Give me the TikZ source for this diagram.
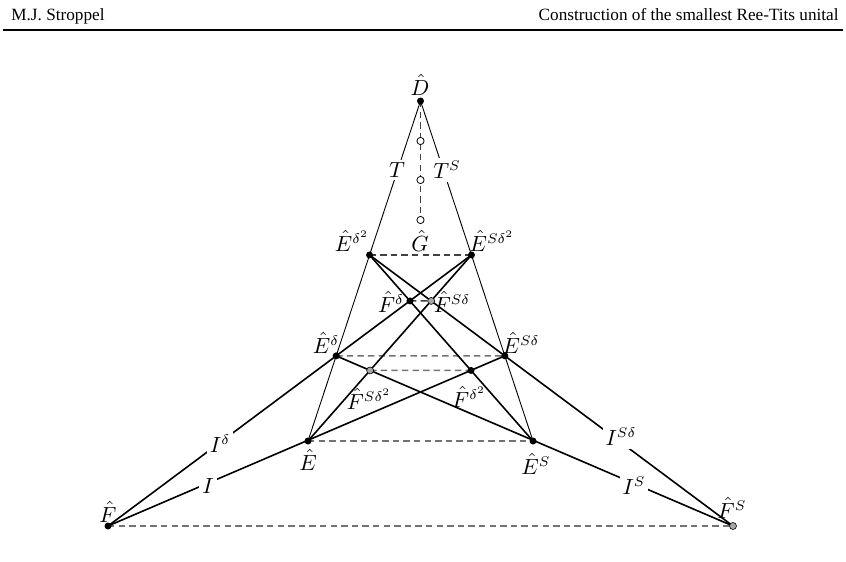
\documentclass[tikz,border=0pt]{standalone}
\usepackage{fontspec}
\usetikzlibrary{calc}
\newfontfamily\hdfont{Liberation Serif}
\begin{document}
\begin{tikzpicture}[x=0.5pt,y=-0.5pt,
  thinl/.style={line width=0.45pt},
  thickl/.style={line width=0.8pt},
  dsh/.style={line width=0.7pt,draw=black!55,dash pattern=on 3.2pt off 2.1pt},
  dshd/.style={dsh,draw=black!75},
  bdot/.style={circle,fill=black,inner sep=0pt,minimum size=3.5pt},
  gdot/.style={circle,fill=black!35,draw=black,line width=0.3pt,inner sep=0pt,minimum size=3.5pt},
  odot/.style={circle,fill=white,draw=black,line width=0.4pt,inner sep=0pt,minimum size=3.6pt},
  lab/.style={inner sep=1pt,font=\fontsize{10.5}{12}\selectfont},
  onl/.style={fill=white,inner sep=1.5pt,font=\fontsize{10.5}{12}\selectfont},
  hd/.style={font=\hdfont\fontsize{8.6}{10}\selectfont,inner sep=0pt}]
\useasboundingbox (0,0) rectangle (846,562);
% header
\node[hd,anchor=base west] (hl) at (11,20) {M.J. Stroppel};
\node[hd,anchor=base east] (hr) at (839,20) {Construction of the smallest Ree-Tits unital};
\coordinate (rl) at (3,30);
\coordinate (rr) at (843,30);
\draw[line width=0.6pt] (rl) -- (rr);
% points
\coordinate (D) at (420.5,101);
\coordinate (E) at (308,441);
\coordinate (ES) at (533,441);
\coordinate (F) at (108,526);
\coordinate (FS) at (733,526);
\coordinate (Ed2) at ($(D)!0.4529!(E)$);
\coordinate (ESd2) at ($(D)!0.4529!(ES)$);
\coordinate (Ed) at (intersection of D--E and F--ESd2);
\coordinate (ESd) at (intersection of D--ES and FS--Ed2);
\coordinate (Fd) at (intersection of F--ESd2 and Ed2--ES);
\coordinate (FSd) at (intersection of FS--Ed2 and ESd2--E);
\coordinate (Fd2) at (intersection of F--ESd and Ed2--ES);
\coordinate (FSd2) at (intersection of FS--Ed and ESd2--E);
\coordinate (G1) at (420.5,141);
\coordinate (G2) at (420.5,180);
\coordinate (G) at (420.5,220);
% dashed
\draw[dshd] (D) -- (G);
\draw[dshd] (Ed2) -- (ESd2);
\draw[dshd] (Fd) -- (FSd);
\draw[dsh] (Ed) -- (ESd);
\draw[dsh] (FSd2) -- (Fd2);
\draw[dsh] (E) -- (ES);
\draw[dsh] (F) -- (FS);
% lines
\draw[thinl] (D) -- (E);
\draw[thinl] (D) -- (ES);
\draw[thickl] (F) -- (ESd2);
\draw[thickl] (F) -- (ESd);
\draw[thickl] (FS) -- (Ed2);
\draw[thickl] (FS) -- (Ed);
\draw[thickl] (Ed2) -- (ES);
\draw[thickl] (ESd2) -- (E);
% line labels
\node[onl] (lT) at (397,170) {$T$};
\node[onl] (lTS) at (447,170) {$T^S$};
\node[onl] (lId) at (220,444) {$I^\delta$};
\node[onl] (lI) at (208,486) {$I$};
\node[onl] (lISd) at (621,437) {$I^{S\delta}$};
\node[onl] (lIS) at (634,486) {$I^S$};
% dots
\node[bdot] (pD) at (D) {};
\node[odot] (pG1) at (G1) {};
\node[odot] (pG2) at (G2) {};
\node[odot] (pG) at (G) {};
\node[bdot] (pEd2) at (Ed2) {};
\node[bdot] (pESd2) at (ESd2) {};
\node[bdot] (pFd) at (Fd) {};
\node[gdot] (pFSd) at (FSd) {};
\node[bdot] (pEd) at (Ed) {};
\node[bdot] (pESd) at (ESd) {};
\node[gdot] (pFSd2) at (FSd2) {};
\node[bdot] (pFd2) at (Fd2) {};
\node[bdot] (pE) at (E) {};
\node[bdot] (pES) at (ES) {};
\node[bdot] (pF) at (F) {};
\node[gdot] (pFS) at (FS) {};
% point labels
\node[lab] (tD) at (420,85) {$\hat D$};
\node[lab] (tG) at (420,241) {$\hat G$};
\node[lab] (tEd2) at (352,241) {$\hat E^{\delta^2}$};
\node[lab] (tESd2) at (492,241) {$\hat E^{S\delta^2}$};
\node[lab] (tFd) at (391,302) {$\hat F^{\delta}$};
\node[lab] (tFSd) at (452,302) {$\hat F^{S\delta}$};
\node[lab] (tEd) at (326,343) {$\hat E^{\delta}$};
\node[lab] (tESd) at (521,343) {$\hat E^{S\delta}$};
\node[lab] (tFSd2) at (369,399) {$\hat F^{S\delta^2}$};
\node[lab] (tFd2) at (469,397) {$\hat F^{\delta^2}$};
\node[lab] (tE) at (308,460) {$\hat E$};
\node[lab] (tES) at (536,464) {$\hat E^{S}$};
\node[lab] (tF) at (108,512) {$\hat F$};
\node[lab] (tFS) at (732,508) {$\hat F^{S}$};
\end{tikzpicture}
\end{document}
